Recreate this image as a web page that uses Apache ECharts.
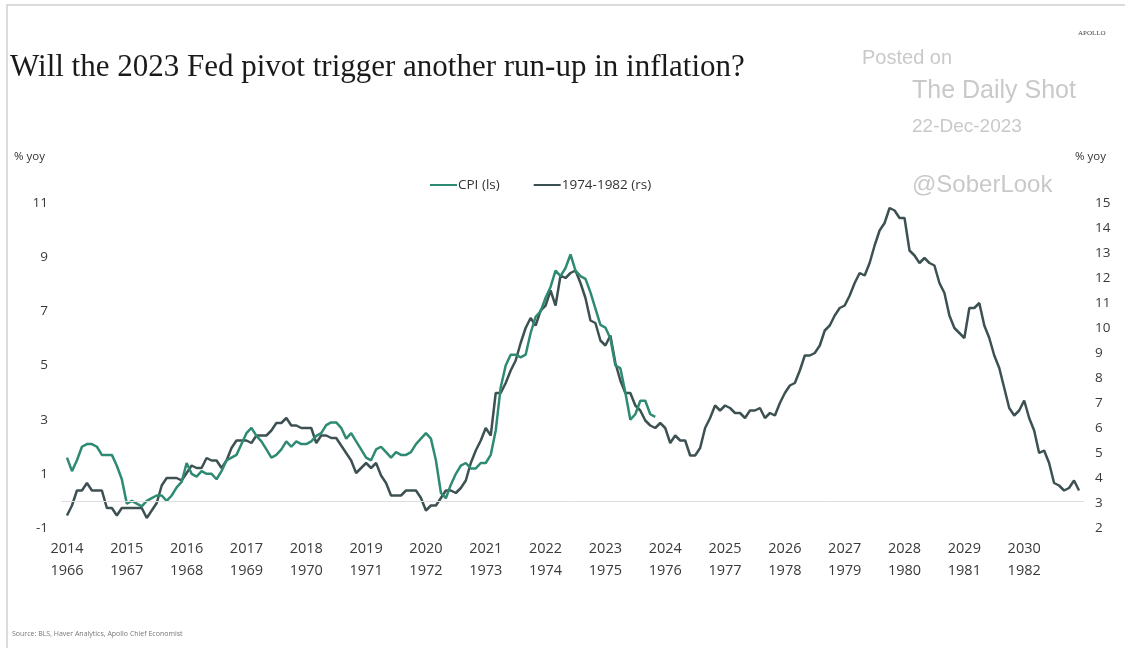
<!DOCTYPE html>
<html>
<head>
<meta charset="utf-8">
<script src="https://cdn.jsdelivr.net/npm/echarts@6/dist/echarts.min.js"></script>
<style>
html,body{margin:0;padding:0;background:#fff;}
#chart{width:1125px;height:648px;}
</style>
</head>
<body>
<div id="chart"></div>
<script>
// x-axis tick labels (years) — top row 2014..2030, bottom row 1966..1982
const yearsTop = [2014,2015,2016,2017,2018,2019,2020,2021,2022,2023,2024,2025,2026,2027,2028,2029,2030];
const yearsBottom = [1966,1967,1968,1969,1970,1971,1972,1973,1974,1975,1976,1977,1978,1979,1980,1981,1982];

// CPI % yoy, monthly from Jan 2014 (left scale)
const cpiStart = 2014;
const cpiValues = [
  1.6,1.1,1.5,2.0,2.1,2.1,2.0,1.7,1.7,1.7,1.3,0.8,
  -0.1,0.0,-0.1,-0.2,0.0,0.1,0.2,0.2,0.0,0.2,0.5,0.7,
  1.4,1.0,0.9,1.1,1.0,1.0,0.8,1.1,1.5,1.6,1.7,2.1,
  2.5,2.7,2.4,2.2,1.9,1.6,1.7,1.9,2.2,2.0,2.2,2.1,
  2.1,2.2,2.4,2.5,2.8,2.9,2.9,2.7,2.3,2.5,2.2,1.9,
  1.6,1.5,1.9,2.0,1.8,1.6,1.8,1.7,1.7,1.8,2.1,2.3,
  2.5,2.3,1.5,0.3,0.1,0.6,1.0,1.3,1.4,1.2,1.2,1.4,
  1.4,1.7,2.6,4.2,5.0,5.4,5.4,5.3,5.4,6.2,6.8,7.0,
  7.5,7.9,8.5,8.3,8.6,9.1,8.5,8.3,8.2,7.7,7.1,6.5,
  6.4,6.0,5.0,4.9,4.0,3.0,3.2,3.7,3.7,3.2,3.1
];

// 1974-1982 episode CPI % yoy, monthly (right scale), plotted from Jan 2014 position
const histStart = 2014;
const histValues = [
  2.5,2.9,3.5,3.5,3.8,3.5,3.5,
  3.5,2.8,2.8,2.5,2.8,2.8,2.8,2.8,2.8,2.4,2.7,3.0,
  3.7,4.0,4.0,4.0,3.9,4.2,4.5,4.4,4.4,4.8,4.7,4.7,
  4.4,4.7,5.2,5.5,5.5,5.5,5.4,5.7,5.7,5.7,5.9,6.2,
  6.2,6.4,6.1,6.1,6.0,6.0,6.0,5.4,5.7,5.7,5.6,5.6,
  5.3,5.0,4.7,4.2,4.4,4.6,4.4,4.6,4.1,3.8,3.3,3.3,
  3.3,3.5,3.5,3.5,3.2,2.7,2.9,2.9,3.2,3.5,3.5,3.4,
  3.6,3.9,4.6,5.1,5.5,6.0,5.7,7.4,7.4,7.8,8.3,8.7,
  9.4,10.0,10.4,10.1,10.7,10.9,11.5,10.9,12.1,12.0,12.2,12.3,
  11.8,11.2,10.3,10.2,9.5,9.3,9.7,8.6,7.9,7.4,7.4,6.9,
  6.7,6.3,6.1,6.0,6.2,6.0,5.4,5.7,5.5,5.5,4.9,4.9,
  5.2,6.0,6.4,6.9,6.7,6.9,6.8,6.6,6.6,6.4,6.7,6.7,
  6.8,6.4,6.6,6.5,7.0,7.4,7.7,7.8,8.3,8.9,8.9,9.0,
  9.3,9.9,10.1,10.5,10.8,10.9,11.3,11.8,12.2,12.1,12.6,13.3,
  13.9,14.2,14.8,14.7,14.4,14.4,13.1,12.9,12.6,12.8,12.6,12.5,
  11.8,11.4,10.5,10.0,9.8,9.6,10.8,10.8,11.0,10.1,9.6,8.9,
  8.4,7.6,6.8,6.5,6.7,7.1,6.4,5.9,5.0,5.1,4.6,3.8,
  3.7,3.5,3.6,3.9,3.5
];

// y-axis tick values
const leftTicks = [-1,1,3,5,7,9,11];
const rightTicks = [2,3,4,5,6,7,8,9,10,11,12,13,14,15];

const cpiData = cpiValues.map((v,i)=>[cpiStart + i/12, v]);
const histData = histValues.map((v,i)=>[histStart + i/12, v]);

const chart = echarts.init(document.getElementById('chart'));
const labelFont = '"Open Sans", sans-serif';
const wm = '#c9c9c9';
chart.setOption({
  animation:false,
  backgroundColor:'#fff',
  grid:{left:61, right:41, top:203, bottom:120, containLabel:false},
  legend:{
    left:425, top:173,
    data:['CPI (ls)','1974-1982 (rs)'],
    icon:'rect', itemWidth:27, itemHeight:2, itemGap:34,
    textStyle:{fontFamily:labelFont, fontSize:13.5, color:'#333', padding:[0,0,0,-4]}
  },
  xAxis:{
    type:'value', min:2013.9, max:2031.0,
    axisLine:{show:false}, axisTick:{show:false}, splitLine:{show:false},
    axisLabel:{
      customValues: yearsTop,
      margin:10, lineHeight:22,
      fontFamily:labelFont, fontSize:14.5, color:'#3a3a3a',
      formatter:(v)=>{ const i = yearsTop.indexOf(Math.round(v)); return i<0?'':yearsTop[i]+'\n'+yearsBottom[i]; }
    }
  },
  yAxis:[
    {type:'value', min:-1, max:11, interval:1, position:'left',
     axisLine:{show:false}, axisTick:{show:false}, splitLine:{show:false},
     axisLabel:{margin:13, fontFamily:labelFont, fontSize:13.5, color:'#3a3a3a',
       formatter:(v)=> leftTicks.indexOf(v)>=0 ? String(v) : ''}},
    {type:'value', min:2, max:15, interval:1, position:'right',
     axisLine:{show:false}, axisTick:{show:false}, splitLine:{show:false},
     axisLabel:{margin:11, fontFamily:labelFont, fontSize:13.5, color:'#3a3a3a',
       formatter:(v)=> rightTicks.indexOf(v)>=0 ? String(v) : ''}}
  ],
  series:[
    {name:'1974-1982 (rs)', type:'line', yAxisIndex:1, data:histData, showSymbol:false, symbol:'none',
     lineStyle:{color:'#3d5052', width:2.5}, itemStyle:{color:'#3d5052'}, z:2},
    {name:'CPI (ls)', type:'line', yAxisIndex:0, data:cpiData, showSymbol:false, symbol:'none',
     lineStyle:{color:'#2e8a72', width:2.5}, itemStyle:{color:'#2e8a72'}, z:3,
     markLine:{silent:true, symbol:'none', label:{show:false},
       lineStyle:{color:'#dedede', width:1, type:'solid'}, data:[{yAxis:0}]}}
  ],
  graphic:[
    {type:'rect', shape:{x:7, y:5, width:1130, height:660}, style:{fill:'none', stroke:'#cfcfcf', lineWidth:1.5}, silent:true},
    {type:'text', x:10, y:68, style:{text:'Will the 2023 Fed pivot trigger another run-up in inflation?', font:'31px "Liberation Serif", serif', fill:'#1a1a1a', textVerticalAlign:'middle', verticalAlign:'middle'}},
    {type:'text', x:1078, y:33, style:{text:'APOLLO', font:'7px "Liberation Serif", serif', fill:'#444', textVerticalAlign:'middle', verticalAlign:'middle'}},
    {type:'text', x:862, y:58, style:{text:'Posted on', font:'20px "Liberation Sans", sans-serif', fill:wm, textVerticalAlign:'middle', verticalAlign:'middle'}},
    {type:'text', x:912, y:91, style:{text:'The Daily Shot', font:'25px "Liberation Sans", sans-serif', fill:wm, textVerticalAlign:'middle', verticalAlign:'middle'}},
    {type:'text', x:912, y:127, style:{text:'22-Dec-2023', font:'19px "Liberation Sans", sans-serif', fill:wm, textVerticalAlign:'middle', verticalAlign:'middle'}},
    {type:'text', x:912, y:185, style:{text:'@SoberLook', font:'24px "Liberation Sans", sans-serif', fill:wm, textVerticalAlign:'middle', verticalAlign:'middle'}},
    {type:'text', x:14, y:157, style:{text:'% yoy', font:'11.5px "Open Sans", sans-serif', fill:'#333', textVerticalAlign:'middle', verticalAlign:'middle'}},
    {type:'text', x:1075, y:157, style:{text:'% yoy', font:'11.5px "Open Sans", sans-serif', fill:'#333', textVerticalAlign:'middle', verticalAlign:'middle'}},
    {type:'text', x:12, y:634, style:{text:'Source: BLS, Haver Analytics, Apollo Chief Economist', font:'7px "Open Sans", sans-serif', fill:'#777', textVerticalAlign:'middle', verticalAlign:'middle'}}
  ]
});
</script>
</body>
</html>
